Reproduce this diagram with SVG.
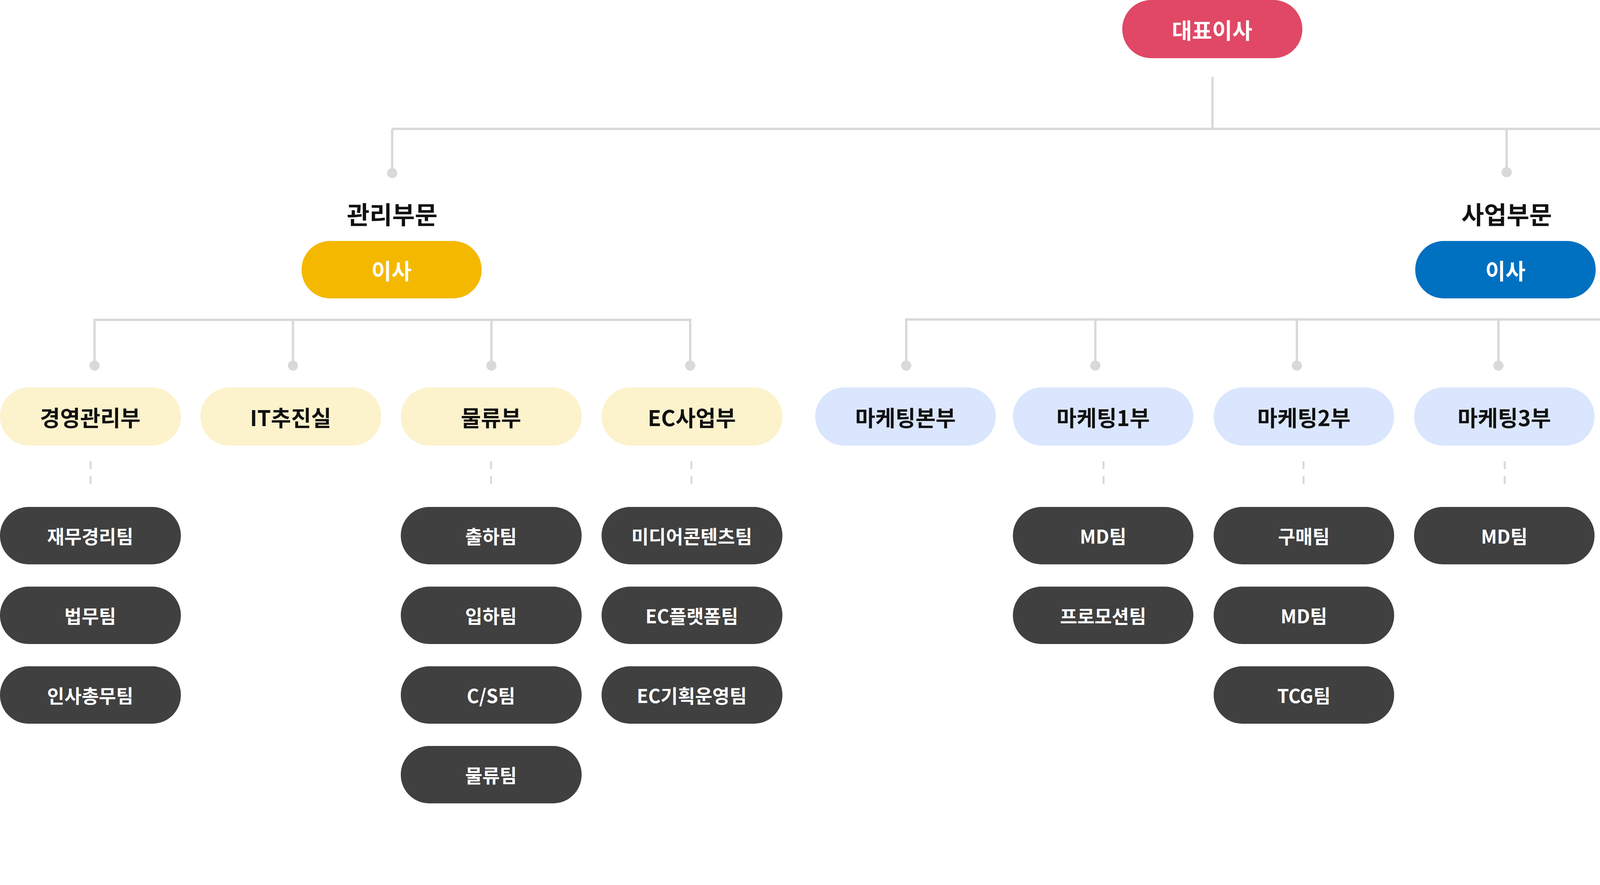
<svg xmlns="http://www.w3.org/2000/svg" width="6207" height="2266" viewBox="0 0 6207 2266">
<style>
text{font-family:"Noto Sans CJK KR","Noto Sans",sans-serif;text-anchor:middle;dominant-baseline:central;font-weight:700}
.ln{stroke:#d9d9d9;stroke-width:6;fill:none}
.ds{stroke:#d9d9d9;stroke-width:5;fill:none;stroke-dasharray:20 18}
.dot{fill:#d9d9d9}
.dept{fill:#fcf2cc}.biz{fill:#dae6fd}.game{fill:#f8d2da}.team{fill:#404040}
.dt{font-size:56px;fill:#111}.tt{font-size:48px;fill:#fff;font-weight:700}
.hd{font-size:63px;fill:#111}.wt{font-size:56px;fill:#fff;font-weight:700}
</style>
<g id="connectors">
<path class="ln" d="M3104 197V330M1004 330H5979V936M1004 330V443M3857 330V441"/>
<path class="ln" d="M242 936V819H1767V936M750 819V936M1258 819V936"/>
<path class="ln" d="M2320 936V818H5390V936M2804 818V936M3320 818V936M3836 818V936M4354 818V936M4871 818V936"/>
<g class="dot">
<circle cx="1004" cy="443" r="13"/><circle cx="3857" cy="441" r="13"/><circle cx="5979" cy="936" r="13"/>
<circle cx="242" cy="936" r="13"/><circle cx="750" cy="936" r="13"/><circle cx="1258" cy="936" r="13"/><circle cx="1767" cy="936" r="13"/>
<circle cx="2320" cy="936" r="13"/><circle cx="2804" cy="936" r="13"/><circle cx="3320" cy="936" r="13"/><circle cx="3836" cy="936" r="13"/>
<circle cx="4354" cy="936" r="13"/><circle cx="4871" cy="936" r="13"/><circle cx="5390" cy="936" r="13"/>
</g>
<path class="ds" d="M232 1181V1257M1257 1181V1257M1770 1181V1257M2825 1181V1257M3337 1181V1257M3852 1181V1257M4365 1181V1257M4878 1181V1257"/>
</g>
<g id="ceo"><rect x="2873" y="0" width="461" height="149" rx="74" fill="#e04865"/><text class="wt" x="3103" y="74">대표이사</text></g>
<g id="mgmt"><text class="hd" x="1004" y="545">관리부문</text><rect x="772" y="617" width="461" height="147" rx="73" fill="#f4b800"/><text class="wt" x="1002" y="690">이사</text></g>
<g id="biz"><text class="hd" x="3857" y="545">사업부문</text><rect x="3623" y="617" width="462" height="147" rx="73" fill="#0070c0"/><text class="wt" x="3854" y="690">이사</text></g>
<g id="d1"><rect class="dept" x="0" y="992" width="463" height="149" rx="74"/><text class="dt" x="231" y="1066">경영관리부</text></g>
<g id="d2"><rect class="dept" x="513" y="992" width="463" height="149" rx="74"/><text class="dt" x="744" y="1066">IT추진실</text></g>
<g id="d3"><rect class="dept" x="1026" y="992" width="463" height="149" rx="74"/><text class="dt" x="1257" y="1066">물류부</text></g>
<g id="d4"><rect class="dept" x="1540" y="992" width="463" height="149" rx="74"/><text class="dt" x="1771" y="1066">EC사업부</text></g>
<g id="d5"><rect class="biz" x="2087" y="992" width="462" height="149" rx="74"/><text class="dt" x="2318" y="1066">마케팅본부</text></g>
<g id="d6"><rect class="biz" x="2593" y="992" width="462" height="149" rx="74"/><text class="dt" x="2824" y="1066">마케팅1부</text></g>
<g id="d7"><rect class="biz" x="3107" y="992" width="462" height="149" rx="74"/><text class="dt" x="3338" y="1066">마케팅2부</text></g>
<g id="d8"><rect class="biz" x="3620" y="992" width="462" height="149" rx="74"/><text class="dt" x="3851" y="1066">마케팅3부</text></g>
<g id="d9"><rect class="biz" x="4134" y="992" width="462" height="149" rx="74"/><text class="dt" x="4365" y="1066">영업부</text></g>
<g id="d10"><rect class="biz" x="4646" y="992" width="463" height="149" rx="74"/><text class="dt" x="4878" y="1066">직영사업부</text></g>
<g id="d11"><rect class="biz" x="5160" y="992" width="463" height="149" rx="74"/><text class="dt" x="5391" y="1066">라이츠전략실</text></g>
<g id="d12"><rect class="game" x="5744" y="992" width="462" height="149" rx="74"/><text class="dt" x="5975" y="1066">게임사업부</text></g>
<g id="t1"><rect class="team" x="0" y="1298" width="463" height="147" rx="73"/><text class="tt" x="231" y="1371">재무경리팀</text></g>
<g id="t2"><rect class="team" x="0" y="1502" width="463" height="147" rx="73"/><text class="tt" x="231" y="1575">법무팀</text></g>
<g id="t3"><rect class="team" x="0" y="1706" width="463" height="147" rx="73"/><text class="tt" x="231" y="1779">인사총무팀</text></g>
<g id="t4"><rect class="team" x="1026" y="1298" width="463" height="147" rx="73"/><text class="tt" x="1257" y="1371">출하팀</text></g>
<g id="t5"><rect class="team" x="1026" y="1502" width="463" height="147" rx="73"/><text class="tt" x="1257" y="1575">입하팀</text></g>
<g id="t6"><rect class="team" x="1026" y="1706" width="463" height="147" rx="73"/><text class="tt" x="1257" y="1779">C/S팀</text></g>
<g id="t7"><rect class="team" x="1026" y="1910" width="463" height="147" rx="73"/><text class="tt" x="1257" y="1983">물류팀</text></g>
<g id="t8"><rect class="team" x="1540" y="1298" width="463" height="147" rx="73"/><text class="tt" x="1771" y="1371">미디어콘텐츠팀</text></g>
<g id="t9"><rect class="team" x="1540" y="1502" width="463" height="147" rx="73"/><text class="tt" x="1771" y="1575">EC플랫폼팀</text></g>
<g id="t10"><rect class="team" x="1540" y="1706" width="463" height="147" rx="73"/><text class="tt" x="1771" y="1779">EC기획운영팀</text></g>
<g id="t11"><rect class="team" x="2593" y="1298" width="462" height="147" rx="73"/><text class="tt" x="2824" y="1371">MD팀</text></g>
<g id="t12"><rect class="team" x="2593" y="1502" width="462" height="147" rx="73"/><text class="tt" x="2824" y="1575">프로모션팀</text></g>
<g id="t13"><rect class="team" x="3107" y="1298" width="462" height="147" rx="73"/><text class="tt" x="3338" y="1371">구매팀</text></g>
<g id="t14"><rect class="team" x="3107" y="1502" width="462" height="147" rx="73"/><text class="tt" x="3338" y="1575">MD팀</text></g>
<g id="t15"><rect class="team" x="3107" y="1706" width="462" height="147" rx="73"/><text class="tt" x="3338" y="1779">TCG팀</text></g>
<g id="t16"><rect class="team" x="3620" y="1298" width="462" height="147" rx="73"/><text class="tt" x="3851" y="1371">MD팀</text></g>
<g id="t17"><rect class="team" x="4134" y="1298" width="462" height="147" rx="73"/><text class="tt" x="4365" y="1371">할인점팀</text></g>
<g id="t18"><rect class="team" x="4123" y="1502" width="462" height="147" rx="73"/><text class="tt" x="4354" y="1575">시장개발팀</text></g>
<g id="t19"><rect class="team" x="4123" y="1706" width="462" height="147" rx="73"/><text class="tt" x="4354" y="1779">총판팀</text></g>
<g id="t20"><rect class="team" x="4123" y="1910" width="462" height="147" rx="73"/><text class="tt" x="4354" y="1983">신규팀</text></g>
<g id="t21"><rect class="team" x="4123" y="2114" width="462" height="147" rx="73"/><text class="tt" x="4354" y="2187">영업추진팀</text></g>
<g id="t22"><rect class="team" x="4646" y="1298" width="463" height="147" rx="73"/><text class="tt" x="4878" y="1371">사업전략팀</text></g>
<g id="t23"><rect class="team" x="4646" y="1502" width="463" height="147" rx="73"/><text class="tt" x="4878" y="1575">직영점팀</text></g>
</svg>
